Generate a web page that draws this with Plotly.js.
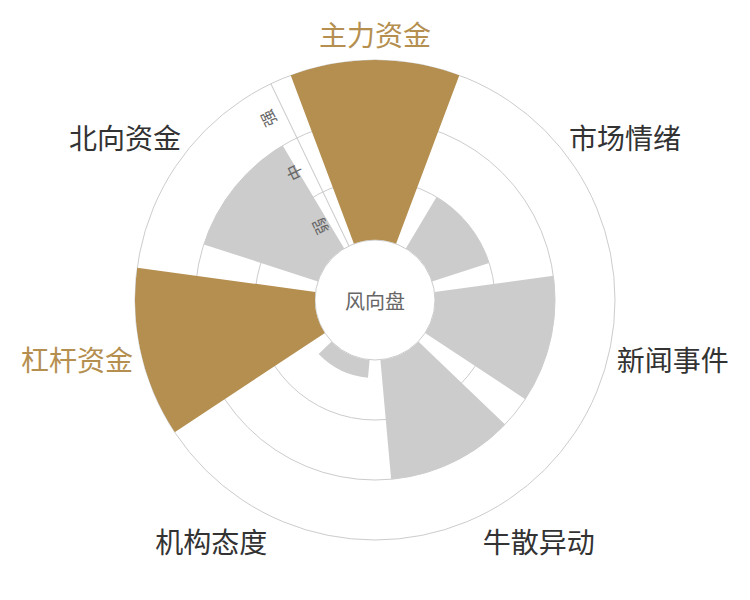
<!DOCTYPE html>
<html>
<head>
<meta charset="utf-8">
<script src="https://cdn.plot.ly/plotly-3.0.1.min.js"></script>
<style>
  html, body { margin: 0; padding: 0; background: #fff; }
  #chart { width: 750px; height: 600px; }
</style>
</head>
<body>
<div id="chart"></div>
<script>
// ---- data ----
const categories = ['主力资金', '市场情绪', '新闻事件', '牛散异动', '机构态度', '杠杆资金', '北向资金'];
const strength = [3, 1, 2, 2, 0.3, 3, 2];
const highlighted = ['主力资金', '杠杆资金'];
const levelValues = [0.5, 1.5, 2.5];
const levelLabels = ['弱', '中', '强'];
const gridValues = [0, 1, 2, 3];
const centerLabel = '风向盘';

// ---- styles ----
const GOLD = '#b58f50';
const GRAY = '#cccccc';
const LINE = '#cccccc';
const FONT = '"Noto Sans CJK SC", "Noto Sans", sans-serif';

const barColors = categories.map(c => highlighted.includes(c) ? GOLD : GRAY);
const tickText = categories.map(c => highlighted.includes(c)
  ? '<span style="color:' + GOLD + '">' + c + '</span>' : c);

const helper = (subplot) => ({
  // invisible helper trace so that a decoration-only polar subplot is drawn
  type: 'scatterpolar',
  subplot: subplot,
  r: strength,
  theta: categories,
  mode: 'markers',
  marker: { opacity: 0, size: 1 },
  hoverinfo: 'skip'
});

const traces = [
  helper('polar'),
  {
    type: 'barpolar',
    subplot: 'polar2',
    r: strength,
    theta: categories,
    marker: { color: barColors, line: { width: 0 } },
    hoverinfo: 'theta+r'
  },
  helper('polar3')
];

const common = {
  domain: { x: [0, 1], y: [0, 1] },
  hole: 0.25,
  bgcolor: 'rgba(0,0,0,0)'
};

const plainAngular = {
  type: 'category', categoryarray: categories,
  direction: 'clockwise', rotation: 90,
  showgrid: false, showticklabels: false, ticks: '', showline: false
};

const layout = {
  width: 750,
  height: 600,
  margin: { l: 135, r: 135, t: 60, b: 60 },
  paper_bgcolor: '#fff',
  plot_bgcolor: '#fff',
  showlegend: false,
  font: { family: FONT, color: '#333' },
  polar: Object.assign({}, common, {
    radialaxis: {
      range: [0, 3], tickmode: 'array', tickvals: gridValues,
      showticklabels: false, ticks: '', showline: false,
      showgrid: true, gridcolor: LINE, gridwidth: 1
    },
    angularaxis: Object.assign({}, plainAngular, {
      showline: true, linecolor: LINE, linewidth: 1
    })
  }),
  polar2: Object.assign({}, common, {
    bargap: 0.2,
    radialaxis: {
      range: [0, 3], tickmode: 'array', tickvals: levelValues, ticktext: levelLabels,
      angle: 90 + 180 / categories.length, side: 'counterclockwise',
      showgrid: false, ticks: 'outside', ticklen: 4, tickcolor: 'rgba(0,0,0,0)',
      showline: true, linecolor: LINE, linewidth: 1,
      tickfont: { size: 16, color: '#666', family: FONT }
    },
    angularaxis: {
      type: 'category', categoryarray: categories,
      direction: 'clockwise', rotation: 90,
      tickmode: 'array', tickvals: categories, ticktext: tickText,
      showgrid: false, showline: false,
      ticks: 'outside', ticklen: 2, tickcolor: 'rgba(0,0,0,0)',
      tickfont: { size: 28, color: '#333', family: FONT }
    }
  }),
  polar3: Object.assign({}, common, {
    radialaxis: {
      range: [0, 3], tickmode: 'array', tickvals: [0],
      showticklabels: false, ticks: '', showline: false,
      showgrid: true, gridcolor: LINE, gridwidth: 1
    },
    angularaxis: plainAngular
  }),
  annotations: [{
    xref: 'paper', yref: 'paper', x: 0.5, y: 0.5,
    text: centerLabel, showarrow: false,
    font: { size: 20, color: '#666', family: FONT }
  }]
};

Plotly.newPlot('chart', traces, layout, { displayModeBar: false, staticPlot: true });
</script>
</body>
</html>
